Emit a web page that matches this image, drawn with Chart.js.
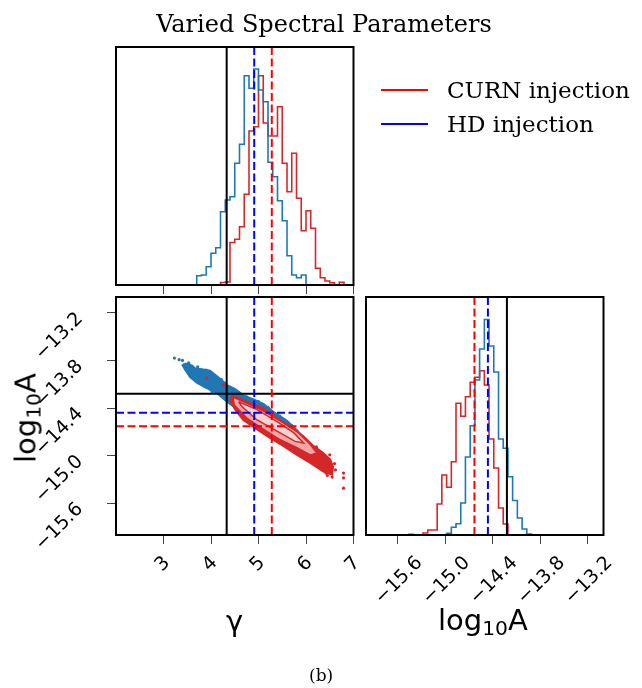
<!DOCTYPE html>
<html><head><meta charset="utf-8">
<script src="https://cdn.jsdelivr.net/npm/chart.js@4.4.1/dist/chart.umd.min.js"></script>
<style>
html,body{margin:0;padding:0;background:#fff;}
#wrap{position:relative;width:642px;height:688px;overflow:hidden;background:#fff;}
canvas{position:absolute;left:0;top:0;}
.t{position:absolute;white-space:nowrap;color:#000;line-height:1;}
.serif{font-family:"DejaVu Serif",serif;}
.sans{font-family:"DejaVu Sans",sans-serif;}
.ln{position:absolute;height:2px;}
sub{font-size:70%;vertical-align:-0.25em;line-height:0;}
</style></head><body>
<div id="wrap">
<canvas id="cA" width="642" height="688"></canvas>
<canvas id="cB" width="642" height="688"></canvas>
<canvas id="cC" width="642" height="688"></canvas>
<div class="t serif" style="left:0;width:648px;text-align:center;top:12px;font-size:24px;">Varied Spectral Parameters</div>
<div class="ln" style="left:381px;width:47px;top:89px;background:#ff0000;"></div>
<div class="ln" style="left:381px;width:47px;top:123px;background:#0000ff;"></div>
<div class="t serif" style="left:447px;top:79px;font-size:23px;">CURN injection</div>
<div class="t serif" style="left:447px;top:113px;font-size:23px;">HD injection</div>
<div class="t sans" style="left:226px;top:607px;font-size:29px;">γ</div>
<div class="t sans" style="left:438px;top:606px;font-size:29px;">log<sub>10</sub>A</div>
<div class="t sans" style="left:26px;top:418px;font-size:29px;transform:translate(-50%,-50%) rotate(-90deg);">log<sub>10</sub>A</div>
<div class="t serif" style="left:309px;top:667px;font-size:17px;">(b)</div>
</div>
<script>
// ---- axes ----
const GAMMA_RANGE = [2, 7];
const LOGA_RANGE = [-16, -13];
const GAMMA_TICKS = [3, 4, 5, 6, 7];
const GAMMA_TICK_LABELS = ['3', '4', '5', '6', '7'];
const LOGA_TICKS = [-15.6, -15.0, -14.4, -13.8, -13.2];
const LOGA_TICK_LABELS = ['\u221215.6', '\u221215.0', '\u221214.4', '\u221213.8', '\u221213.2'];
const HIST_YMAX = 238;

// ---- injected / true values ----
const TRUE_GAMMA = 4.33, TRUE_LOGA = -14.22;
const HD_INJ_GAMMA = 4.91, HD_INJ_LOGA = -14.46;
const CURN_INJ_GAMMA = 5.28, CURN_INJ_LOGA = -14.63;

// ---- gamma histograms (bin edges + heights) ----
const GAMMA_BIN_EDGES = [3.70,3.80,3.90,4.00,4.10,4.20,4.30,4.40,4.50,4.60,4.70,4.80,4.90,5.00,5.10,5.20,5.30,5.40,5.50,5.60,5.70,5.80,5.90,6.00,6.10,6.20,6.30,6.40,6.50,6.60,6.70,6.80];
const GAMMA_HD_FIRST = 0;
const GAMMA_HD = [9.3,10,18.3,31.7,37.3,73.3,85,88.3,121.7,140.7,209.3,196.7,216,195,183.3,122.7,108.3,84.3,64.3,29.3,10,7.3,10];
const GAMMA_CURN_FIRST = 5;
const GAMMA_CURN = [2.5,3,42.5,45.7,58.3,90.7,154,158.3,209.3,162,149,149,178.3,121.7,93.3,131.7,86.7,54.3,74.3,56.7,16.7,7.3,4,2.3,0,2.7];

// ---- log10A histograms ----
const LOGA_BIN_EDGES = [-15.459,-15.399,-15.339,-15.280,-15.220,-15.160,-15.101,-15.042,-14.982,-14.922,-14.863,-14.803,-14.744,-14.684,-14.624,-14.565,-14.505,-14.446,-14.386,-14.326,-14.267,-14.207,-14.148,-14.088,-14.028,-13.969,-13.909];
const LOGA_CURN_FIRST = 0;
const LOGA_CURN = [0.7,0,0,2,5,5,31,60,47.7,73.3,131.7,118.7,138.3,152.7,157.7,164.3,150,96,67,27,11];
const LOGA_HD_FIRST = 8;
const LOGA_HD = [1.7,7.7,11.3,32,78,109.3,155,186,215.5,189,163,96,86.7,58.3,34.5,17,6,1];

// ---- 2D samples: cloud outlines, sparse points and contours [gamma, log10A] ----
const HD_CLOUD = [[3.45,-13.84],[3.53,-13.84],[3.67,-13.90],[3.81,-13.91],[3.98,-13.93],[4.19,-14.03],[4.34,-14.11],[4.51,-14.16],[4.68,-14.24],[4.90,-14.29],[5.11,-14.35],[5.32,-14.45],[5.60,-14.56],[5.81,-14.68],[5.95,-14.78],[5.81,-14.82],[5.53,-14.76],[5.25,-14.67],[4.97,-14.57],[4.68,-14.46],[4.47,-14.38],[4.30,-14.30],[4.12,-14.21],[3.91,-14.15],[3.70,-14.08],[3.56,-14.01],[3.46,-13.92],[3.40,-13.86],[3.45,-13.84]];
const HD_POINTS = [[3.23,-13.77],[3.33,-13.79],[3.40,-13.80],[3.53,-13.83],[3.60,-13.87],[3.50,-13.88],[3.64,-13.94],[3.72,-13.88],[3.78,-13.98],[3.90,-13.92],[3.95,-14.10],[4.05,-13.99],[4.12,-14.02],[4.22,-14.04],[4.30,-14.09],[4.40,-14.14],[4.60,-14.21],[4.75,-14.26],[5.00,-14.32],[5.20,-14.39],[5.45,-14.50],[5.70,-14.62],[5.85,-14.72],[5.93,-14.76],[3.85,-14.12],[4.02,-14.19]];
const CURN_CLOUD = [[4.44,-14.24],[4.83,-14.34],[5.11,-14.40],[5.39,-14.53],[5.67,-14.63],[5.95,-14.76],[6.16,-14.88],[6.37,-14.97],[6.51,-15.05],[6.57,-15.14],[6.55,-15.24],[6.37,-15.20],[6.09,-15.09],[5.81,-14.99],[5.53,-14.88],[5.25,-14.78],[4.97,-14.67],[4.68,-14.55],[4.51,-14.42],[4.42,-14.32],[4.44,-14.24]];
const CURN_POINTS = [[3.91,-14.02],[4.26,-14.11],[6.60,-15.10],[6.55,-15.27],[6.62,-15.18],[6.45,-15.25],[6.79,-15.22],[6.79,-15.28],[6.79,-15.41],[6.30,-15.16],[6.50,-14.99],[6.22,-14.89],[5.90,-15.00],[6.42,-15.22]];
const CURN_CONTOUR_OUTER = [[4.46,-14.26],[4.83,-14.36],[5.18,-14.46],[5.53,-14.59],[5.84,-14.71],[6.09,-14.86],[6.23,-14.97],[6.09,-14.99],[5.81,-14.90],[5.46,-14.80],[5.11,-14.67],[4.76,-14.53],[4.49,-14.36],[4.46,-14.26]];
const CURN_CONTOUR_INNER = [[4.58,-14.32],[4.97,-14.42],[5.39,-14.57],[5.74,-14.71],[5.95,-14.84],[5.77,-14.82],[5.39,-14.69],[4.97,-14.55],[4.65,-14.38],[4.58,-14.32]];

// ---- colours ----
const C_HD = '#1f77b4', C_CURN = '#d62728';
const C_HD_INJ = '#0000ff', C_CURN_INJ = '#ff0000';

function stepData(edges, first, counts) {
  const pts = [{x: edges[first], y: 0}];
  counts.forEach((c, i) => pts.push({x: edges[first + i], y: c}));
  pts.push({x: edges[first + counts.length], y: 0});
  return pts;
}
const xy = arr => arr.map(p => ({x: p[0], y: p[1]}));
function hist(data, color) {
  return {data, borderColor: color, borderWidth: 1.6, stepped: 'before', pointRadius: 0, fill: false, order: 5};
}
function vline(x, lo, hi, color, dash, order) {
  return {data: [{x, y: lo}, {x, y: hi}], borderColor: color, borderWidth: 2, borderDash: dash || [], pointRadius: 0, fill: false, order};
}
function hline(y, lo, hi, color, dash, order) {
  return {data: [{x: lo, y}, {x: hi, y}], borderColor: color, borderWidth: 2, borderDash: dash || [], pointRadius: 0, fill: false, order};
}
const DASH = [8, 3.5];

const framePlugin = {
  id: 'frame',
  afterDraw(chart) {
    const a = chart.chartArea, c = chart.ctx;
    c.save(); c.strokeStyle = '#000'; c.lineWidth = 2;
    c.strokeRect(a.left, a.top, a.right - a.left, a.bottom - a.top);
    c.restore();
  }
};
const tickFont = {family: 'DejaVu Sans', size: 19};
function setTicks(vals) { return s => { s.ticks = vals.map(v => ({value: v})); }; }
const gridOpts = {drawOnChartArea: false, drawTicks: true, tickLength: 9, color: '#444', lineWidth: 1};
const baseOpts = {
  responsive: false, animation: false, devicePixelRatio: 1,
  plugins: {legend: {display: false}, tooltip: {enabled: false}},
  elements: {line: {tension: 0}, point: {radius: 0}}
};

// ---- panel A: gamma histogram ----
new Chart(document.getElementById('cA'), {
  type: 'line',
  data: {datasets: [
    vline(TRUE_GAMMA, 0, HIST_YMAX, '#000', null, 3),
    vline(HD_INJ_GAMMA, 0, HIST_YMAX, C_HD_INJ, DASH, 2),
    vline(CURN_INJ_GAMMA, 0, HIST_YMAX, C_CURN_INJ, DASH, 1),
    hist(stepData(GAMMA_BIN_EDGES, GAMMA_HD_FIRST, GAMMA_HD), C_HD),
    hist(stepData(GAMMA_BIN_EDGES, GAMMA_CURN_FIRST, GAMMA_CURN), C_CURN)
  ]},
  options: Object.assign({}, baseOpts, {
    layout: {padding: {left: 116, top: 47, right: 288.5, bottom: 0}},
    scales: {
      x: {type: 'linear', min: GAMMA_RANGE[0], max: GAMMA_RANGE[1], afterBuildTicks: setTicks(GAMMA_TICKS),
          ticks: {display: false}, grid: gridOpts, border: {display: false}, afterFit: s => { s.height = 403; }},
      y: {type: 'linear', min: 0, max: HIST_YMAX, display: false}
    }
  }),
  plugins: [framePlugin]
});

// ---- panel B: 2D ----
new Chart(document.getElementById('cB'), {
  type: 'line',
  data: {datasets: [
    vline(TRUE_GAMMA, LOGA_RANGE[0], LOGA_RANGE[1], '#000', null, 3),
    hline(TRUE_LOGA, GAMMA_RANGE[0], GAMMA_RANGE[1], '#000', null, 3),
    vline(HD_INJ_GAMMA, LOGA_RANGE[0], LOGA_RANGE[1], C_HD_INJ, DASH, 2),
    hline(HD_INJ_LOGA, GAMMA_RANGE[0], GAMMA_RANGE[1], C_HD_INJ, DASH, 2),
    vline(CURN_INJ_GAMMA, LOGA_RANGE[0], LOGA_RANGE[1], C_CURN_INJ, DASH, 1),
    hline(CURN_INJ_LOGA, GAMMA_RANGE[0], GAMMA_RANGE[1], C_CURN_INJ, DASH, 1),
    {data: xy(HD_CLOUD), borderColor: C_HD, backgroundColor: C_HD, borderWidth: 2, fill: 'shape', pointRadius: 0, order: 12},
    {data: xy(HD_POINTS), showLine: false, pointRadius: 1.6, pointBorderWidth: 0, pointBackgroundColor: C_HD, order: 11},
    {data: xy(CURN_CLOUD), borderColor: C_CURN, backgroundColor: C_CURN, borderWidth: 2, fill: 'shape', pointRadius: 0, order: 10},
    {data: xy(CURN_POINTS), showLine: false, pointRadius: 1.6, pointBorderWidth: 0, pointBackgroundColor: C_CURN, order: 9},
    {data: xy(CURN_CONTOUR_OUTER), borderColor: C_CURN, backgroundColor: 'rgba(248,190,190,0.85)', borderWidth: 1.5, fill: 'shape', pointRadius: 0, order: 8},
    {data: xy(CURN_CONTOUR_INNER), borderColor: C_CURN, backgroundColor: 'rgba(250,215,215,0.9)', borderWidth: 1.5, fill: 'shape', pointRadius: 0, order: 7}
  ]},
  options: Object.assign({}, baseOpts, {
    layout: {padding: {left: 0, top: 297, right: 288.5, bottom: 0}},
    scales: {
      x: {type: 'linear', min: GAMMA_RANGE[0], max: GAMMA_RANGE[1], afterBuildTicks: setTicks(GAMMA_TICKS),
          ticks: {display: true, autoSkip: false, minRotation: 45, maxRotation: 45, padding: 8, labelOffset: 3.5, font: tickFont, color: '#000',
                  callback: v => GAMMA_TICK_LABELS[GAMMA_TICKS.indexOf(v)]},
          grid: gridOpts, border: {display: false}, afterFit: s => { s.height = 153; }},
      y: {type: 'linear', min: LOGA_RANGE[0], max: LOGA_RANGE[1], afterBuildTicks: setTicks(LOGA_TICKS),
          ticks: {display: true, autoSkip: false, minRotation: 45, maxRotation: 45, padding: 27, labelOffset: 3, font: tickFont, color: '#000',
                  callback: v => LOGA_TICK_LABELS[LOGA_TICKS.indexOf(v)]},
          grid: gridOpts, border: {display: false}, afterFit: s => { s.width = 116; }}
    }
  }),
  plugins: [framePlugin]
});

// ---- panel C: log10A histogram ----
new Chart(document.getElementById('cC'), {
  type: 'line',
  data: {datasets: [
    vline(TRUE_LOGA, 0, HIST_YMAX, '#000', null, 3),
    vline(HD_INJ_LOGA, 0, HIST_YMAX, C_HD_INJ, DASH, 2),
    vline(CURN_INJ_LOGA, 0, HIST_YMAX, C_CURN_INJ, DASH, 1),
    hist(stepData(LOGA_BIN_EDGES, LOGA_HD_FIRST, LOGA_HD), C_HD),
    hist(stepData(LOGA_BIN_EDGES, LOGA_CURN_FIRST, LOGA_CURN), C_CURN)
  ]},
  options: Object.assign({}, baseOpts, {
    layout: {padding: {left: 366, top: 297, right: 38.5, bottom: 0}},
    scales: {
      x: {type: 'linear', min: LOGA_RANGE[0], max: LOGA_RANGE[1], afterBuildTicks: setTicks(LOGA_TICKS),
          ticks: {display: true, autoSkip: false, minRotation: 45, maxRotation: 45, padding: 8, labelOffset: 22, font: tickFont, color: '#000',
                  callback: v => LOGA_TICK_LABELS[LOGA_TICKS.indexOf(v)]},
          grid: gridOpts, border: {display: false}, afterFit: s => { s.height = 153; }},
      y: {type: 'linear', min: 0, max: HIST_YMAX, display: false}
    }
  }),
  plugins: [framePlugin]
});
</script>
</body></html>
